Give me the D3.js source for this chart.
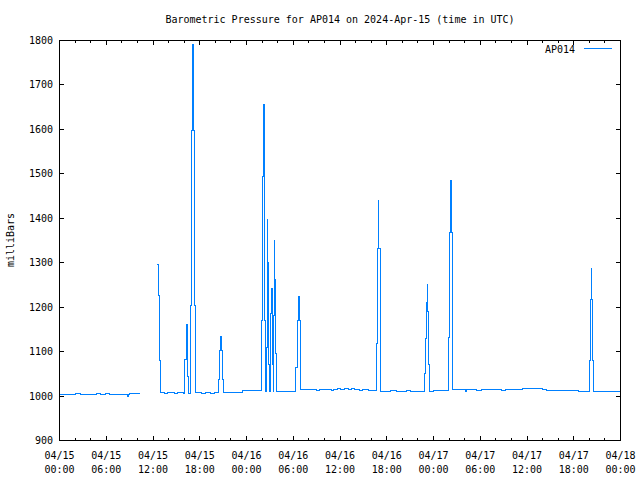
<!DOCTYPE html>
<html><head><meta charset="utf-8">
<script src="https://cdn.jsdelivr.net/npm/d3@7"></script>
<style>
body{margin:0;background:#fff}
text{font-family:"DejaVu Sans Mono",monospace;font-size:10px;fill:#000}
</style>
</head><body>
<svg id="c" width="640" height="480"></svg>
<script>
const chartTitle = "Barometric Pressure for AP014 on 2024-Apr-15 (time in UTC)";
const seriesName = "AP014";
const yAxisLabel = "milliBars";
const yTicks = [900,1000,1100,1200,1300,1400,1500,1600,1700,1800];
const xTicks = ["2024-04-15 00:00","2024-04-15 06:00","2024-04-15 12:00","2024-04-15 18:00",
  "2024-04-16 00:00","2024-04-16 06:00","2024-04-16 12:00","2024-04-16 18:00",
  "2024-04-17 00:00","2024-04-17 06:00","2024-04-17 12:00","2024-04-17 18:00","2024-04-18 00:00"];

// samples (time UTC, pressure mb); null marks a gap in the record
const times = [
 "2024-04-15 00:00","2024-04-15 02:00","2024-04-15 02:06","2024-04-15 02:40","2024-04-15 02:46",
 "2024-04-15 04:40","2024-04-15 04:46","2024-04-15 05:14","2024-04-15 05:20","2024-04-15 05:50",
 "2024-04-15 05:56","2024-04-15 06:20","2024-04-15 06:26","2024-04-15 08:36","2024-04-15 08:44",
 "2024-04-15 08:52","2024-04-15 09:06","2024-04-15 10:24","2024-04-15 11:30",
 "2024-04-15 12:37","2024-04-15 12:45","2024-04-15 12:52","2024-04-15 13:00","2024-04-15 13:30",
 "2024-04-15 13:36","2024-04-15 13:50","2024-04-15 13:56","2024-04-15 14:40","2024-04-15 14:46",
 "2024-04-15 15:10","2024-04-15 15:16","2024-04-15 15:50","2024-04-15 15:56","2024-04-15 16:04",
 "2024-04-15 16:10","2024-04-15 16:18","2024-04-15 16:26","2024-04-15 16:31","2024-04-15 16:36",
 "2024-04-15 16:43","2024-04-15 16:50","2024-04-15 16:58","2024-04-15 17:05","2024-04-15 17:13",
 "2024-04-15 17:21","2024-04-15 17:28","2024-04-15 18:10","2024-04-15 18:16","2024-04-15 18:40",
 "2024-04-15 18:46","2024-04-15 19:20","2024-04-15 19:26","2024-04-15 19:50","2024-04-15 19:56",
 "2024-04-15 20:20","2024-04-15 20:27","2024-04-15 20:34","2024-04-15 20:42","2024-04-15 20:50",
 "2024-04-15 20:58","2024-04-15 21:03","2024-04-15 23:30","2024-04-15 23:36",
 "2024-04-16 01:55","2024-04-16 02:01","2024-04-16 02:09","2024-04-16 02:13","2024-04-16 02:21",
 "2024-04-16 02:26","2024-04-16 02:32","2024-04-16 02:36","2024-04-16 02:44","2024-04-16 02:49",
 "2024-04-16 02:57","2024-04-16 03:02","2024-04-16 03:07","2024-04-16 03:15","2024-04-16 03:22",
 "2024-04-16 03:28","2024-04-16 03:30","2024-04-16 03:38","2024-04-16 03:43","2024-04-16 03:49",
 "2024-04-16 03:56","2024-04-16 06:18","2024-04-16 06:25","2024-04-16 06:35","2024-04-16 06:43",
 "2024-04-16 06:50","2024-04-16 06:58","2024-04-16 07:03","2024-04-16 08:00","2024-04-16 08:06",
 "2024-04-16 09:00","2024-04-16 09:06","2024-04-16 09:20","2024-04-16 09:26","2024-04-16 10:50",
 "2024-04-16 10:56","2024-04-16 11:10","2024-04-16 11:16","2024-04-16 11:40","2024-04-16 11:46",
 "2024-04-16 12:00","2024-04-16 12:06","2024-04-16 12:30","2024-04-16 12:36","2024-04-16 13:00",
 "2024-04-16 13:06","2024-04-16 13:30","2024-04-16 13:36","2024-04-16 13:50","2024-04-16 13:56",
 "2024-04-16 14:30","2024-04-16 14:36","2024-04-16 14:50","2024-04-16 14:56","2024-04-16 15:40",
 "2024-04-16 15:46","2024-04-16 16:40","2024-04-16 16:46","2024-04-16 16:54","2024-04-16 16:59",
 "2024-04-16 17:04","2024-04-16 17:12","2024-04-16 17:17","2024-04-16 18:30","2024-04-16 18:36",
 "2024-04-16 19:10","2024-04-16 19:16","2024-04-16 20:30","2024-04-16 20:36","2024-04-16 21:00",
 "2024-04-16 21:06","2024-04-16 22:44","2024-04-16 22:51","2024-04-16 23:01","2024-04-16 23:08",
 "2024-04-16 23:16","2024-04-16 23:21","2024-04-16 23:27","2024-04-16 23:31",
 "2024-04-17 00:00","2024-04-17 00:06","2024-04-17 00:20","2024-04-17 00:26","2024-04-17 01:52",
 "2024-04-17 01:58","2024-04-17 02:06","2024-04-17 02:13","2024-04-17 02:21","2024-04-17 02:29",
 "2024-04-17 02:34","2024-04-17 04:04","2024-04-17 04:10","2024-04-17 04:16","2024-04-17 05:30",
 "2024-04-17 05:36","2024-04-17 06:10","2024-04-17 06:16","2024-04-17 08:40","2024-04-17 08:46",
 "2024-04-17 09:10","2024-04-17 09:16","2024-04-17 11:20","2024-04-17 11:26","2024-04-17 14:00",
 "2024-04-17 14:06","2024-04-17 14:30","2024-04-17 14:36","2024-04-17 18:36","2024-04-17 18:42",
 "2024-04-17 20:00","2024-04-17 20:04","2024-04-17 20:11","2024-04-17 20:19","2024-04-17 20:24",
 "2024-04-17 20:32","2024-04-17 20:37","2024-04-17 23:58"
];
const pressure = [
 1003.5,1003.5,1005.5,1005.5,1003.5,
 1003.5,1005.5,1005.5,1003.5,1003.5,
 1005.5,1005.5,1003.5,1003.5,998,
 1003.5,1005,1005,null,
 1296,1225,1080,1006,1006,
 1004.5,1004.5,1006,1006,1004.5,
 1004.5,1006,1006,1004.5,1004.5,
 1082,1159,1120,1044,1005,
 1005,1203,1596,1790,1596,
 1203,1006,1006,1004.5,1004.5,
 1006,1006,1004.5,1004.5,1006,
 1006,1037,1101,1132,1101,
 1037,1008,1008,1011.5,
 1011.5,1170,1492,1654,1492,
 1170,1009,1108,1396,1300,
 1069,1009,1185,1241,1069,
 1009,1180,1348,1262,1095,
 1010,1010,1063,1168,1222,
 1168,1063,1013,1013,1014.5,
 1014.5,1012,1012,1014.5,1014.5,
 1012,1012,1014.5,1014.5,1017,
 1017,1014.5,1014.5,1016.5,1016.5,
 1014.5,1014.5,1016.5,1016.5,1014,
 1014,1012.5,1012.5,1014.5,1014.5,
 1012.5,1012.5,1117,1331,1440,
 1331,1117,1009,1010,1011.5,
 1011.5,1010,1010,1011.5,1011.5,
 1010,1010,1050,1129,1210,
 1251,1190,1069,1010,
 1012.5,1011,1011,1012.5,1012.5,
 1130,1366,1485,1366,1130,
 1013,1013,1009,1014.5,1014.5,
 1012.5,1012.5,1014.5,1014.5,1012.5,
 1012.5,1014.5,1014.5,1016,
 1016,1014,1014,1012.5,1012.5,1010,
 1010,1078,1217,1287,1217,
 1078,1010,1010
];

const parse = d3.utcParse("%Y-%m-%d %H:%M");
const data = times.map((t,i)=>({t:parse(t), v:pressure[i]}));

const svg = d3.select("#c");
const L=59, R=620, T=40, B=440;
const x = d3.scaleUtc().domain([parse(xTicks[0]), parse(xTicks[xTicks.length-1])]).range([L,R]);
const y = d3.scaleLinear().domain([yTicks[0], yTicks[yTicks.length-1]]).range([B,T]);

// minor x ticks (every 2 hours)
const minor = x.ticks(d3.utcHour.every(2));
const axStyle = g => { g.select(".domain").remove(); g.selectAll("line").attr("stroke","#000").attr("shape-rendering","crispEdges"); };
svg.append("g").attr("transform",`translate(0,${B})`)
  .call(d3.axisBottom(x).tickValues(minor).tickSize(-2.5).tickFormat(""))
  .call(axStyle);
svg.append("g").attr("transform",`translate(0,${T})`)
  .call(d3.axisTop(x).tickValues(minor).tickSize(-2.5).tickFormat(""))
  .call(axStyle);

const majorX = xTicks.map(parse);
const fmtD = d3.utcFormat("%m/%d"), fmtH = d3.utcFormat("%H:%M");
const gx = svg.append("g").attr("transform",`translate(0,${B})`)
  .call(d3.axisBottom(x).tickValues(majorX).tickSize(-4.5).tickFormat(""))
  .call(axStyle);
gx.selectAll(".tick").each(function(d){
  const tk = d3.select(this);
  tk.append("text").attr("y",19).attr("text-anchor","middle").attr("fill","#000").text(fmtD(d));
  tk.append("text").attr("y",33).attr("text-anchor","middle").attr("fill","#000").text(fmtH(d));
});
svg.append("g").attr("transform",`translate(0,${T})`)
  .call(d3.axisTop(x).tickValues(majorX).tickSize(-4.5).tickFormat(""))
  .call(axStyle);

const gy = svg.append("g").attr("transform",`translate(${L},0)`)
  .call(d3.axisLeft(y).tickValues(yTicks).tickSize(-4.5).tickPadding(6).tickFormat(d3.format("d")))
  .call(axStyle);
gy.selectAll("text").attr("font-family",null).attr("font-size",null).attr("fill","#000").attr("dy","0.35em");
svg.append("g").attr("transform",`translate(${R},0)`)
  .call(d3.axisRight(y).tickValues(yTicks).tickSize(-4.5).tickFormat(""))
  .call(axStyle);

// data line
const line = d3.line().defined(d=>d.v!==null).x(d=>x(d.t)).y(d=>y(d.v)).curve(d3.curveStepAfter);
svg.append("path").datum(data).attr("d",line)
  .attr("fill","none").attr("stroke","#0080ff").attr("stroke-width",1)
  .attr("shape-rendering","crispEdges");

// border
svg.append("rect").attr("x",L).attr("y",T).attr("width",R-L).attr("height",B-T)
  .attr("fill","none").attr("stroke","#000").attr("stroke-width",1).attr("shape-rendering","crispEdges");

// title & labels
svg.append("text").attr("x",340).attr("y",23).attr("text-anchor","middle").text(chartTitle);
svg.append("text").attr("transform","translate(14,240) rotate(-90)").attr("text-anchor","middle").text(yAxisLabel);

// legend
svg.append("text").attr("x",575).attr("y",52.5).attr("text-anchor","end").text(seriesName);
svg.append("line").attr("x1",584).attr("x2",612).attr("y1",48.5).attr("y2",48.5)
  .attr("stroke","#0080ff").attr("stroke-width",1).attr("shape-rendering","crispEdges");
</script>
</body></html>
